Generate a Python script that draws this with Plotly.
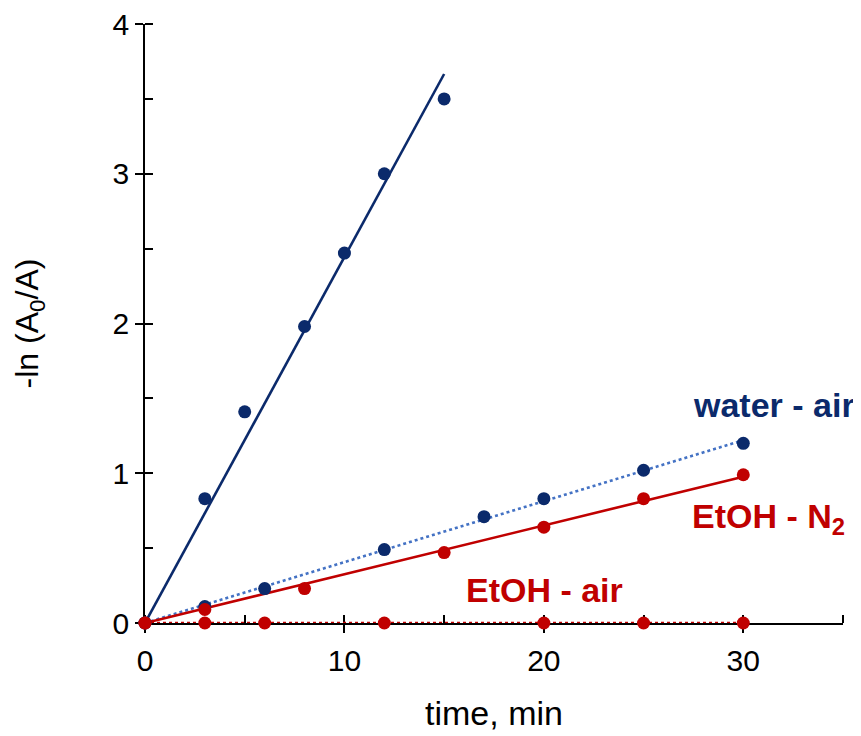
import numpy as np
import plotly.graph_objects as go

# ---- data ----
water_n2_x = [0, 3, 5, 8, 10, 12, 15]
water_n2_y = [0, 0.83, 1.41, 1.98, 2.47, 3.00, 3.50]

water_air_x = [0, 3, 6, 12, 17, 20, 25, 30]
water_air_y = [0, 0.11, 0.23, 0.49, 0.71, 0.83, 1.02, 1.20]

etoh_n2_x = [0, 3, 8, 15, 20, 25, 30]
etoh_n2_y = [0, 0.09, 0.23, 0.47, 0.64, 0.83, 0.99]

etoh_air_x = [0, 3, 6, 12, 20, 25, 30]
etoh_air_y = [0, 0, 0, 0, 0, 0, 0]

NAVY = "#0B2A6B"
LIGHTBLUE = "#4472C4"
RED = "#C00000"
FONT = "Liberation Sans, Arial, sans-serif"


def fit_origin(x, y):
    x = np.asarray(x, float)
    y = np.asarray(y, float)
    k = float((x * y).sum() / (x * x).sum())
    xs = np.array([0.0, x.max()])
    return xs, k * xs


fig = go.Figure()

# trend lines (linear fit through origin)
for xs_, ys_, col, dash in [
    (water_n2_x, water_n2_y, NAVY, "solid"),
    (water_air_x, water_air_y, LIGHTBLUE, "dot"),
    (etoh_n2_x, etoh_n2_y, RED, "solid"),
    (etoh_air_x, etoh_air_y, RED, "dot"),
]:
    fx, fy = fit_origin(xs_, ys_)
    fig.add_trace(go.Scatter(x=fx, y=fy, mode="lines",
                             line=dict(color=col, width=2.6, dash=dash),
                             cliponaxis=False, showlegend=False, hoverinfo="skip"))

# data markers
for xs_, ys_, col in [
    (water_n2_x, water_n2_y, NAVY),
    (water_air_x, water_air_y, NAVY),
    (etoh_n2_x, etoh_n2_y, RED),
    (etoh_air_x, etoh_air_y, RED),
]:
    fig.add_trace(go.Scatter(x=xs_, y=ys_, mode="markers",
                             marker=dict(color=col, size=13),
                             cliponaxis=False, showlegend=False))

# labels
fig.add_annotation(x=27.4, y=1.455, text="<b>water - air</b>", showarrow=False,
                   font=dict(family=FONT, size=34, color=NAVY), xanchor="left", yanchor="middle")
fig.add_annotation(x=27.35, y=0.695, text="<b>EtOH - N<sub>2</sub></b>", showarrow=False,
                   font=dict(family=FONT, size=34, color=RED), xanchor="left", yanchor="middle")
fig.add_annotation(x=16.0, y=0.22, text="<b>EtOH - air</b>", showarrow=False,
                   font=dict(family=FONT, size=34, color=RED), xanchor="left", yanchor="middle")

axis_common = dict(showgrid=False, zeroline=False, showline=True, linecolor="black",
                   linewidth=1.6, tickcolor="black", tickwidth=1.6,
                   layer="below traces", automargin=False)

fig.update_layout(
    width=861, height=736,
    margin=dict(l=137, r=26, t=16, b=121),
    paper_bgcolor="white", plot_bgcolor="white",
    font=dict(family=FONT, size=30, color="black"),
    xaxis=dict(range=[0, 35], dtick=10, tick0=0, ticks="outside", ticklen=8,
               minor=dict(dtick=5, ticks="inside", ticklen=8, tickcolor="black", tickwidth=1.6),
               title=dict(text="time, min", font=dict(size=34), standoff=25),
               tickfont=dict(size=30), ticklabelstandoff=2, ticklabeloverflow="allow",
               **axis_common),
    yaxis=dict(range=[0, 4], dtick=1, tick0=0, ticks="outside", ticklen=8,
               minor=dict(dtick=0.5, ticks="inside", ticklen=8, tickcolor="black", tickwidth=1.6),
               title=dict(text="-ln (A<sub>0</sub>/A)", font=dict(size=32), standoff=64),
               tickfont=dict(size=30), ticklabeloverflow="allow", **axis_common),
    xaxis2=dict(range=[0, 35], dtick=10, tick0=0, ticks="inside", ticklen=8,
                overlaying="x", anchor="y", side="bottom", showticklabels=False,
                **axis_common),
    yaxis2=dict(range=[0, 4], dtick=1, tick0=0, ticks="inside", ticklen=8,
                overlaying="y", anchor="x", side="left", showticklabels=False,
                **axis_common),
)
fig.add_trace(go.Scatter(x=[None], y=[None], xaxis="x2", yaxis="y2",
                         showlegend=False, hoverinfo="skip"))

fig.write_html("out.html")
